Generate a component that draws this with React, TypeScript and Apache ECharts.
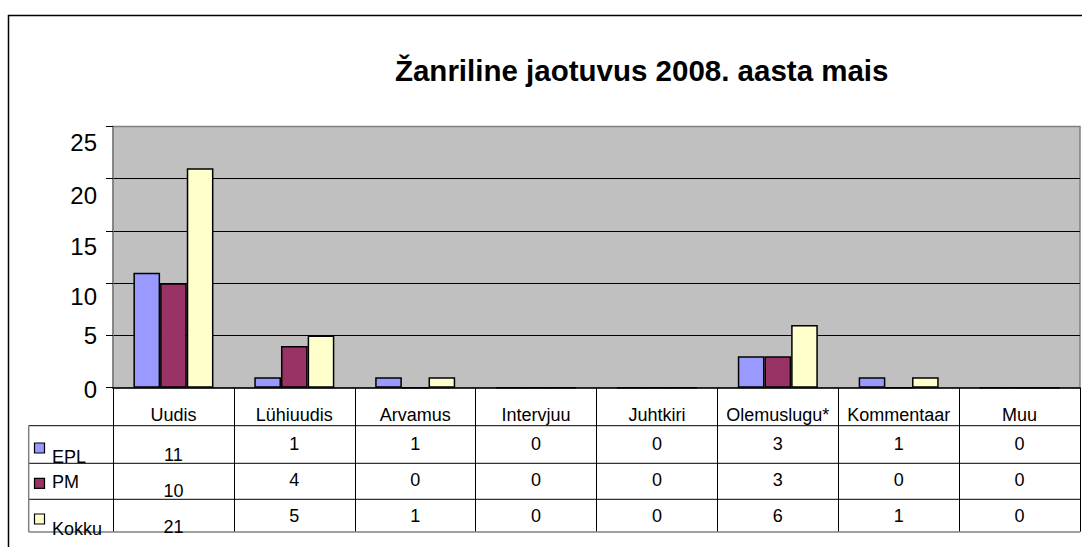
import React, { useEffect, useRef } from "react";
import * as echarts from "echarts";

const titleText = "Žanriline jaotuvus 2008. aasta mais";
const categories = ["Uudis", "Lühiuudis", "Arvamus", "Intervjuu", "Juhtkiri", "Olemuslugu*", "Kommentaar", "Muu"];
const seriesNames = ["EPL", "PM", "Kokku"];
const eplValues = [11, 1, 1, 0, 0, 3, 1, 0];
const pmValues = [10, 4, 0, 0, 0, 3, 0, 0];
const kokkuValues = [21, 5, 1, 0, 0, 6, 1, 0];
const yTicks = [0, 5, 10, 15, 20, 25];

const seriesValues = [eplValues, pmValues, kokkuValues];
const colors = ["#9999FF", "#993366", "#FFFFCC"];
const FONT = "'Liberation Sans', Arial, sans-serif";

// label vertical offsets seen in the reference (layout only)
const yLabelOffset: Record<number, number> = { 0: 2, 5: 0, 10: 13, 15: 16, 20: 17, 25: 16 };

export default function App() {
  const ref = useRef<HTMLDivElement>(null);
  useEffect(() => {
    if (!ref.current) return;
    const chart = echarts.init(ref.current, undefined, { renderer: "svg" });
    const rich: Record<string, any> = {};
    yTicks.forEach((v) => {
      rich["o" + v] = {
        fontSize: 24,
        fontFamily: FONT,
        color: "#000",
        padding: [2 * (yLabelOffset[v] || 0), 0, 0, 0],
      };
    });
    chart.setOption({
      animation: false,
      grid: {
        left: 113,
        right: 2,
        top: 126.5,
        bottom: 159.3,
        show: true,
        backgroundColor: "#C0C0C0",
        borderColor: "#808080",
        borderWidth: 1.5,
      },
      xAxis: {
        type: "category",
        data: categories,
        boundaryGap: true,
        axisLine: { show: true, lineStyle: { color: "#000", width: 1.5 } },
        axisTick: { show: true, interval: 0, length: 144, lineStyle: { color: "#000", width: 1 } },
        axisLabel: { interval: 0, margin: 18, fontSize: 18, fontFamily: FONT, color: "#000" },
        splitLine: { show: false },
      },
      yAxis: {
        type: "value",
        min: 0,
        max: 25,
        interval: 5,
        axisLine: { show: true, lineStyle: { color: "#808080", width: 1.5 } },
        axisTick: { show: true, length: 7, lineStyle: { color: "#000" } },
        axisLabel: {
          margin: 16,
          formatter: (v: number) => `{o${v}|${v}}`,
          rich,
        },
        splitLine: { show: true, showMinLine: false, showMaxLine: false, lineStyle: { color: "#000", width: 1 } },
      },
      series: seriesNames.map((name, i) => ({
        name,
        type: "bar",
        data: seriesValues[i],
        barGap: "0%",
        barCategoryGap: "33.8%",
        itemStyle: { color: colors[i], borderColor: "#000", borderWidth: 1.5 },
      })),
    });

    const rowCenters = [444, 480, 516];
    const rowLines = [425.7, 463.3, 499.3];
    const tableLeft = 28.7;
    const tableRight = 1080;
    const tableBottom = 532;
    const firstColShift = 11;
    const legendSquareY = [443, 478.3, 514];
    const legendLabelY = [456.7, 481.7, 529];

    const elements: any[] = [];
    elements.push({
      type: "rect",
      shape: { x: 8.5, y: 15.5, width: 1100, height: 600 },
      style: { fill: "none", stroke: "#000", lineWidth: 1.5 },
      silent: true,
    });
    elements.push({
      type: "text",
      x: 641.7,
      y: 70,
      style: {
        text: titleText,
        fontSize: 29.5,
        fontWeight: "bold",
        fontFamily: FONT,
        fill: "#000",
        align: "center",
        verticalAlign: "middle",
      },
    });
    rowLines.forEach((y) => {
      elements.push({
        type: "line",
        shape: { x1: tableLeft, y1: y, x2: tableRight, y2: y },
        style: { stroke: "#000", lineWidth: 1 },
        z: 10,
      });
    });
    elements.push({
      type: "line",
      shape: { x1: tableLeft, y1: tableBottom, x2: tableRight, y2: tableBottom },
      style: { stroke: "#808080", lineWidth: 1.5 },
      z: 10,
    });
    elements.push({
      type: "line",
      shape: { x1: tableLeft, y1: rowLines[0], x2: tableLeft, y2: tableBottom },
      style: { stroke: "#808080", lineWidth: 1.5 },
      z: 10,
    });
    seriesNames.forEach((name, r) => {
      elements.push({
        type: "rect",
        shape: { x: 34.5, y: legendSquareY[r], width: 10, height: 10 },
        style: { fill: colors[r], stroke: "#000", lineWidth: 1.2 },
        z: 10,
      });
      elements.push({
        type: "text",
        x: 52,
        y: legendLabelY[r],
        style: { text: name, fontSize: 18, fontFamily: FONT, fill: "#000", align: "left", verticalAlign: "middle" },
        z: 10,
      });
      seriesValues[r].forEach((v, c) => {
        const x = chart.convertToPixel({ xAxisIndex: 0 }, c) as number;
        elements.push({
          type: "text",
          x,
          y: rowCenters[r] + (c === 0 ? firstColShift : 0),
          style: { text: String(v), fontSize: 18, fontFamily: FONT, fill: "#000", align: "center", verticalAlign: "middle" },
          z: 10,
        });
      });
    });
    chart.setOption({ graphic: { elements } });
    return () => chart.dispose();
  }, []);
  return <div ref={ref} style={{ position: "absolute", left: 0, top: 0, width: 1082, height: 547 }} />;
}
